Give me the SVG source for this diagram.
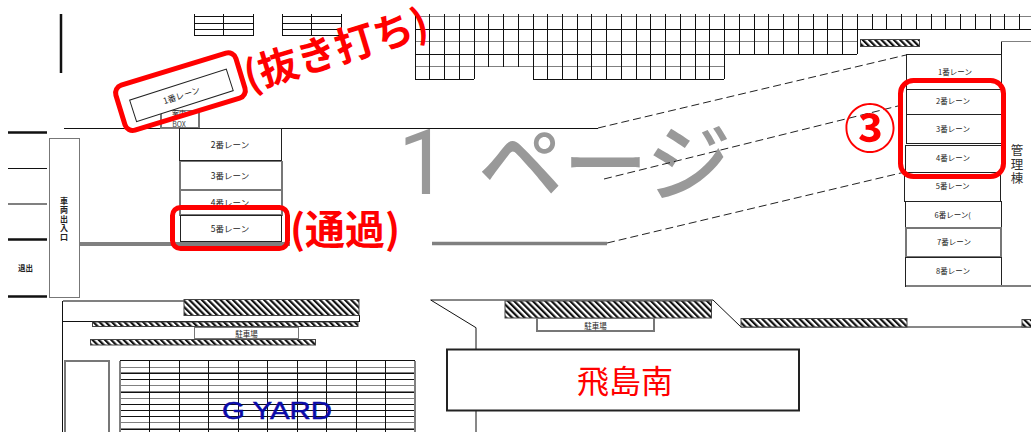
<svg xmlns="http://www.w3.org/2000/svg" width="1031" height="432" viewBox="0 0 1031 432">
<style>
text{font-family:"Noto Sans CJK JP","Liberation Sans",sans-serif}
.b{stroke:#111;stroke-width:1;fill:none;shape-rendering:crispEdges}
.g{stroke:#808080;stroke-width:1.2;fill:none;shape-rendering:crispEdges}
.box{fill:#fff;stroke:#222;stroke-width:1;shape-rendering:crispEdges}
.boxg{fill:#fff;stroke:#777;stroke-width:1.2;shape-rendering:crispEdges}
.t{font-size:8.5px;fill:#222;text-anchor:middle}
.tr{font-size:7.5px;fill:#222;text-anchor:middle}
.vt{writing-mode:vertical-rl}
.red{fill:none;stroke:#f00;stroke-width:5}
.rt{fill:#f00;font-weight:700}
.h{fill:url(#hatch);stroke:#444;stroke-width:1}
.k{stroke:#111;stroke-width:2.5;fill:none}
.d{stroke:#222;stroke-width:1;stroke-dasharray:8 4;fill:none}
</style>
<defs>
<pattern id="hatch" patternUnits="userSpaceOnUse" width="4.4" height="4.4" patternTransform="rotate(-45)">
<rect width="4.4" height="4.4" fill="#fff"/><rect width="2.2" height="4.4" fill="#111"/>
</pattern>
</defs>
<rect width="1031" height="432" fill="#fff"/>

<g id="watermark">
<text x="398" y="194" font-size="90" fill="#999" style="font-family:Roboto,sans-serif">1</text>
<text x="478" y="195" font-size="85" fill="#999" font-weight="500">ページ</text>
</g>

<g id="top-grids">
<path class="b" d="M194 16.7H253M194 23H253M194 29.7H253M194 35.7H253M194 14V35.7M223.5 14V35.7M253 14V35.7"/>
<path class="b" d="M282.3 16.7H341.7M282.3 23H341.7M282.3 29.7H341.7M282.3 35.7H341.7M282.3 14V35.7M311.7 14V35.7M341.7 14V35.7"/>
<path class="g" d="M415 16.7H1031M415 41.7H857M1001 41.7H1031M415 66.7H724"/>
<path class="b" d="M415 29H1031M415 54H857M415 79H474M533 79H724M1001 41.7V54"/>
<path class="b" d="M415 14V79M429.7 14V79M444.5 14V79M459.2 14V79M474 14V79M488.7 14V66.7M503.5 14V66.7M518.2 14V66.7M533 14V79M547.7 14V79M562.4 14V79M577.2 14V79M591.9 14V79M606.7 14V79M621.4 14V79M636.2 14V79M650.9 14V79M665.6 14V79M680.4 14V79M695.1 14V79M709.9 14V79M724.6 14V79M739.3 14V54M754.1 14V54M768.8 14V54M783.6 14V54M798.3 14V54M813.1 14V54M827.8 14V54M842.5 14V54M857.3 14V54M872 14V29M886.8 14V29M901.5 14V29M916.3 14V29M931 14V29M945.7 14V29M960.5 14V29M975.2 14V29M990 14V29M1004.7 14V29M1019.5 14V29"/>
<rect class="h" x="860.5" y="39.5" width="59" height="7"/>
</g>

<g id="left-road">
<path class="k" d="M61 14V73M8 132.5H47M8 239.5H47M8 296.5H47"/>
<path class="b" d="M8 168H47"/>
<path class="g" d="M8 204H47" stroke-width="1.5"/>
<rect id="entrance" class="boxg" x="49.5" y="138.5" width="30" height="159"/>
<text class="vt" x="64" y="196.500" font-size="8" font-weight="700" letter-spacing="1" fill="#222">車両出入口</text>
<text x="25.500" y="271" font-size="7.500" font-weight="700" text-anchor="middle" fill="#222">退出</text>
</g>

<g id="connectors">
<path class="b" d="M64 128H598"/>
<path d="M80 244H290" stroke="#808080" stroke-width="4" fill="none"/>
<path d="M432 243.500H607" stroke="#808080" stroke-width="3.500" fill="none"/>
<path class="d" d="M598 128L906 55"/>
<path class="d" d="M604 179L906 104"/>
<path class="d" d="M607 243L905 172"/>
</g>

<g id="box">
<rect class="boxg" x="161" y="110.500" width="38" height="17.500"/>
<text x="179" y="116" font-size="7" text-anchor="middle" fill="#222">案内</text>
<text x="179" y="127" font-size="7" text-anchor="middle" fill="#444">BOX</text>
</g>

<g id="lane-1-left" transform="rotate(-17.800 181.500 95.400)">
<rect class="box" x="130.700" y="84" width="101.500" height="22.700" style="shape-rendering:auto"/>
<text class="t" x="181.500" y="98.500">1番レーン</text>
</g>
<g id="lane-2-left"><rect class="box" x="179.500" y="128" width="102" height="32.500"/><text class="t" x="230" y="148">2番レーン</text></g>
<g id="lane-3-left"><rect class="boxg" x="180" y="161.500" width="102" height="28.500"/><text class="t" x="230" y="178.700">3番レーン</text></g>
<g id="lane-4-left"><rect class="boxg" x="180" y="190" width="102" height="25"/><text class="t" x="230" y="205.700">4番レーン</text></g>
<g id="lane-5-left"><rect class="box" x="180" y="215.500" width="101.500" height="26"/><text class="t" x="230" y="232">5番レーン</text></g>

<g id="lane-1-right"><rect class="box" x="906" y="54.500" width="95" height="34.500"/><text class="tr" x="955" y="75">1番レーン</text></g>
<g id="lane-2-right"><rect class="box" x="906" y="89" width="95" height="25"/><text class="tr" x="953" y="104.400">2番レーン</text></g>
<g id="lane-3-right"><rect class="box" x="906" y="114" width="95" height="29"/><text class="tr" x="953" y="131.700">3番レーン</text></g>
<g id="lane-4-right"><rect class="box" x="905.500" y="145" width="95.500" height="27"/><text class="tr" x="953" y="160.700">4番レーン</text></g>
<g id="lane-5-right"><rect class="box" x="904.500" y="172" width="96" height="29"/><text class="tr" x="952.700" y="189.400">5番レーン</text></g>
<g id="lane-6-right"><rect class="box" x="905.500" y="201" width="95.500" height="27"/><text class="tr" x="952.700" y="217.700">6番レーン(</text></g>
<g id="lane-7-right"><rect class="boxg" x="906" y="228" width="95" height="29"/><text class="tr" x="954" y="245.400">7番レーン</text></g>
<g id="lane-8-right"><rect class="box" x="905.500" y="257" width="95.500" height="29"/><text class="tr" x="953" y="274.400">8番レーン</text></g>
<path class="g" d="M905.500 286H1031" stroke-width="1.500"/>

<g id="office">
<text class="vt" x="1017" y="143.500" font-size="12.500" letter-spacing="1.500" fill="#333">管理棟</text>
</g>

<g id="g-yard">
<path class="b" d="M62.700 301V432" stroke-width="1.800"/>
<path class="g" d="M62.700 301H184" stroke-width="1.500"/>
<path class="b" d="M63 321H360M359.500 315V321"/>
<rect class="h" x="184" y="299.500" width="175" height="16"/>
<rect class="h" x="92.500" y="322" width="265.500" height="4.500"/>
<rect class="boxg" x="194.500" y="327.700" width="104" height="11.300"/>
<text x="246.500" y="336.500" font-size="7.500" text-anchor="middle" fill="#222">駐車場</text>
<rect class="h" x="90.500" y="339.500" width="225" height="5.500"/>
<rect class="boxg" x="65" y="361" width="44" height="73"/>
<path class="g" d="M120 360.700H415M120 367.300H415M120 373H415M120 379.300H415M120 385.700H415M120 392H415M120 398.300H415M120 404.300H415M120 410.700H415M120 416.700H415M120 422.700H415M120 429H415"/>
<path class="b" d="M120 360.700H415M120 373H415M120 379.300H415M120 392H415M120 404.300H415M120 410.700H415M120 416.700H415M120 429H415M149.500 360.700V432M179 360.700V432M208.500 360.700V432M238 360.700V432M267.500 360.700V432M297 360.700V432M326.500 360.700V432M356 360.700V432M385.500 360.700V432"/>
<path class="g" d="M120 360.700V432M415 360.700V432"/>
<text x="222" y="419" font-size="24" fill="#0a0aa8" stroke="#0a0aa8" stroke-width="0.500" textLength="110" lengthAdjust="spacingAndGlyphs" style="font-family:'Liberation Sans',sans-serif">G YARD</text>
</g>

<g id="asuka-minami">
<path class="b" d="M476 432V327.700L430.700 300H713L741 327H1031" stroke-width="1.500" style="shape-rendering:auto"/>
<rect class="h" x="505" y="301" width="206.500" height="17"/>
<rect class="boxg" x="537" y="318.500" width="117" height="12.500"/>
<text x="595.500" y="328.500" font-size="7.500" text-anchor="middle" fill="#222">駐車場</text>
<rect class="h" x="741" y="318.500" width="166" height="8.500"/>
<rect class="h" x="1022" y="319.500" width="10" height="7.500"/>
<rect x="447" y="349.500" width="352" height="61" fill="#fff" stroke="#222" stroke-width="2"/>
<text x="625" y="393" font-size="32" fill="#f00" text-anchor="middle">飛島南</text>
</g>

<g id="highlights">
<rect class="red" x="117.700" y="68.200" width="125.500" height="47" rx="8" transform="rotate(-17 180.400 91.700)"/>
<rect class="red" x="172.500" y="207.500" width="115" height="41" rx="8"/>
<rect class="red" x="900.500" y="80.500" width="103" height="96" rx="13"/>
<text class="rt" x="249" y="91" font-size="40" transform="rotate(-17 249 91)">(抜き打ち)</text>
<text class="rt" x="290" y="244" font-size="40">(通過)</text>
<text x="870" y="148" font-size="52" text-anchor="middle" fill="#f00" font-weight="700">③</text>
</g>
</svg>
